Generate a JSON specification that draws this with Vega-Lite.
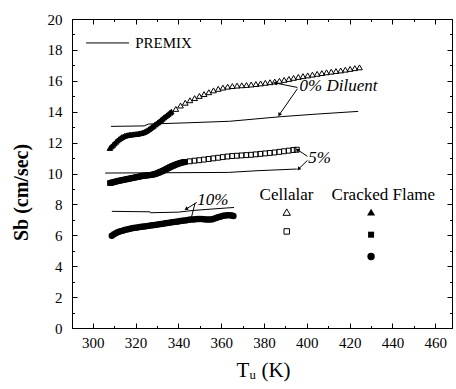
{
  "$schema": "https://vega.github.io/schema/vega-lite/v6.json",
  "width": 380,
  "height": 309,
  "autosize": "none",
  "padding": {"left": 72, "top": 19, "right": 4, "bottom": 61},
  "background": "white",
  "config": {
    "view": {"stroke": "black", "strokeWidth": 1},
    "font": "Times New Roman, Liberation Serif, serif",
    "text": {"font": "Times New Roman, Liberation Serif, serif", "color": "black"}
  },
  "datasets": {
    "curve0dense": [
      {"T": 308.0, "S": 11.65}, {"T": 308.7, "S": 11.75}, {"T": 309.4, "S": 11.85}, {"T": 310.1, "S": 11.95},
      {"T": 310.8, "S": 12.05}, {"T": 311.5, "S": 12.14}, {"T": 312.2, "S": 12.22}, {"T": 312.9, "S": 12.29},
      {"T": 313.6, "S": 12.35}, {"T": 314.3, "S": 12.40}, {"T": 315.0, "S": 12.44}, {"T": 315.7, "S": 12.47},
      {"T": 316.4, "S": 12.49}, {"T": 317.1, "S": 12.51}, {"T": 317.8, "S": 12.52}, {"T": 318.5, "S": 12.53},
      {"T": 319.2, "S": 12.54}, {"T": 319.9, "S": 12.55}, {"T": 320.6, "S": 12.56}, {"T": 321.3, "S": 12.58},
      {"T": 322.0, "S": 12.60}, {"T": 322.7, "S": 12.62}, {"T": 323.4, "S": 12.65}, {"T": 324.1, "S": 12.69},
      {"T": 324.8, "S": 12.74}, {"T": 325.5, "S": 12.80}, {"T": 326.2, "S": 12.87}, {"T": 326.9, "S": 12.94},
      {"T": 327.6, "S": 13.01}, {"T": 328.3, "S": 13.08}, {"T": 329.0, "S": 13.16}, {"T": 329.7, "S": 13.23},
      {"T": 330.4, "S": 13.30}, {"T": 331.1, "S": 13.38}, {"T": 331.8, "S": 13.46}, {"T": 332.5, "S": 13.54},
      {"T": 333.2, "S": 13.62}, {"T": 333.9, "S": 13.70}, {"T": 334.6, "S": 13.77}, {"T": 335.3, "S": 13.85},
      {"T": 336.0, "S": 13.93}, {"T": 336.7, "S": 14.00}
    ],
    "curve0": [
      {"T": 338.8, "S": 14.18}, {"T": 341.0, "S": 14.40}, {"T": 343.2, "S": 14.58}, {"T": 345.4, "S": 14.74},
      {"T": 347.6, "S": 14.88}, {"T": 349.8, "S": 15.02}, {"T": 352.0, "S": 15.14}, {"T": 354.2, "S": 15.26},
      {"T": 356.4, "S": 15.38}, {"T": 358.6, "S": 15.48}, {"T": 360.8, "S": 15.56}, {"T": 363.0, "S": 15.62},
      {"T": 365.2, "S": 15.66}, {"T": 367.4, "S": 15.69}, {"T": 369.6, "S": 15.71}, {"T": 371.8, "S": 15.73},
      {"T": 374.0, "S": 15.76}, {"T": 376.2, "S": 15.79}, {"T": 378.4, "S": 15.83}, {"T": 380.6, "S": 15.87},
      {"T": 382.8, "S": 15.91}, {"T": 385.0, "S": 15.95}, {"T": 387.2, "S": 16.00}, {"T": 389.4, "S": 16.06},
      {"T": 391.6, "S": 16.12}, {"T": 393.8, "S": 16.19}, {"T": 396.0, "S": 16.25}, {"T": 398.2, "S": 16.30},
      {"T": 400.4, "S": 16.35}, {"T": 402.6, "S": 16.40}, {"T": 404.8, "S": 16.45}, {"T": 407.0, "S": 16.50},
      {"T": 409.2, "S": 16.55}, {"T": 411.4, "S": 16.59}, {"T": 413.6, "S": 16.63}, {"T": 415.8, "S": 16.67},
      {"T": 418.0, "S": 16.72}, {"T": 420.2, "S": 16.77}, {"T": 422.4, "S": 16.82}, {"T": 424.6, "S": 16.87}
    ],
    "curve5dense": [
      {"T": 308.1, "S": 9.38}, {"T": 308.8, "S": 9.41}, {"T": 309.5, "S": 9.43}, {"T": 310.2, "S": 9.46},
      {"T": 310.9, "S": 9.48}, {"T": 311.6, "S": 9.51}, {"T": 312.3, "S": 9.53}, {"T": 313.0, "S": 9.55},
      {"T": 313.7, "S": 9.57}, {"T": 314.4, "S": 9.59}, {"T": 315.1, "S": 9.61}, {"T": 315.8, "S": 9.63},
      {"T": 316.5, "S": 9.65}, {"T": 317.2, "S": 9.67}, {"T": 317.9, "S": 9.69}, {"T": 318.6, "S": 9.71},
      {"T": 319.3, "S": 9.73}, {"T": 320.0, "S": 9.75}, {"T": 320.7, "S": 9.77}, {"T": 321.4, "S": 9.79},
      {"T": 322.1, "S": 9.81}, {"T": 322.8, "S": 9.83}, {"T": 323.5, "S": 9.85}, {"T": 324.2, "S": 9.86},
      {"T": 324.9, "S": 9.87}, {"T": 325.6, "S": 9.88}, {"T": 326.3, "S": 9.89}, {"T": 327.0, "S": 9.90},
      {"T": 327.7, "S": 9.92}, {"T": 328.4, "S": 9.94}, {"T": 329.1, "S": 9.97}, {"T": 329.8, "S": 10.00},
      {"T": 330.5, "S": 10.04}, {"T": 331.2, "S": 10.08}, {"T": 331.9, "S": 10.12}, {"T": 332.6, "S": 10.16},
      {"T": 333.3, "S": 10.21}, {"T": 334.0, "S": 10.26}, {"T": 334.7, "S": 10.31}, {"T": 335.4, "S": 10.36},
      {"T": 336.1, "S": 10.41}, {"T": 336.8, "S": 10.46}, {"T": 337.5, "S": 10.50}, {"T": 338.2, "S": 10.54},
      {"T": 338.9, "S": 10.58}, {"T": 339.6, "S": 10.62}, {"T": 340.3, "S": 10.65}, {"T": 341.0, "S": 10.68},
      {"T": 341.7, "S": 10.71}, {"T": 342.4, "S": 10.73}, {"T": 343.1, "S": 10.75}
    ],
    "curve5": [
      {"T": 345.3, "S": 10.79}, {"T": 347.5, "S": 10.83}, {"T": 349.7, "S": 10.86}, {"T": 351.9, "S": 10.90},
      {"T": 354.1, "S": 10.94}, {"T": 356.3, "S": 10.98}, {"T": 358.5, "S": 11.02}, {"T": 360.7, "S": 11.06},
      {"T": 362.9, "S": 11.10}, {"T": 365.1, "S": 11.13}, {"T": 367.3, "S": 11.15}, {"T": 369.5, "S": 11.17},
      {"T": 371.7, "S": 11.19}, {"T": 373.9, "S": 11.21}, {"T": 376.1, "S": 11.24}, {"T": 378.3, "S": 11.27},
      {"T": 380.5, "S": 11.30}, {"T": 382.7, "S": 11.33}, {"T": 384.9, "S": 11.36}, {"T": 387.1, "S": 11.40},
      {"T": 389.3, "S": 11.44}, {"T": 391.5, "S": 11.48}, {"T": 393.7, "S": 11.52}, {"T": 395.3, "S": 11.54}
    ],
    "curve10": [
      {"T": 308.9, "S": 5.97}, {"T": 309.9, "S": 6.07}, {"T": 310.9, "S": 6.15}, {"T": 311.9, "S": 6.21},
      {"T": 312.9, "S": 6.26}, {"T": 313.9, "S": 6.30}, {"T": 314.9, "S": 6.34}, {"T": 315.9, "S": 6.38},
      {"T": 316.9, "S": 6.41}, {"T": 317.9, "S": 6.44}, {"T": 318.9, "S": 6.47}, {"T": 319.9, "S": 6.49},
      {"T": 320.9, "S": 6.51}, {"T": 321.9, "S": 6.53}, {"T": 322.9, "S": 6.55}, {"T": 323.9, "S": 6.57},
      {"T": 324.9, "S": 6.59}, {"T": 325.9, "S": 6.61}, {"T": 326.9, "S": 6.63}, {"T": 327.9, "S": 6.65},
      {"T": 328.9, "S": 6.67}, {"T": 329.9, "S": 6.69}, {"T": 330.9, "S": 6.71}, {"T": 331.9, "S": 6.73},
      {"T": 332.9, "S": 6.75}, {"T": 333.9, "S": 6.78}, {"T": 334.9, "S": 6.80}, {"T": 335.9, "S": 6.82},
      {"T": 336.9, "S": 6.84}, {"T": 337.9, "S": 6.86}, {"T": 338.9, "S": 6.88}, {"T": 339.9, "S": 6.90},
      {"T": 340.9, "S": 6.92}, {"T": 341.9, "S": 6.94}, {"T": 342.9, "S": 6.96}, {"T": 343.9, "S": 6.98},
      {"T": 344.9, "S": 7.00}, {"T": 345.9, "S": 7.02}, {"T": 346.9, "S": 7.03}, {"T": 347.9, "S": 7.04},
      {"T": 348.9, "S": 7.05}, {"T": 349.9, "S": 7.05}, {"T": 350.9, "S": 7.05}, {"T": 351.9, "S": 7.04},
      {"T": 352.9, "S": 7.03}, {"T": 353.9, "S": 7.02}, {"T": 354.9, "S": 7.02}, {"T": 355.9, "S": 7.04},
      {"T": 356.9, "S": 7.08}, {"T": 357.9, "S": 7.13}, {"T": 358.9, "S": 7.18}, {"T": 359.9, "S": 7.22},
      {"T": 360.9, "S": 7.26}, {"T": 361.9, "S": 7.28}, {"T": 362.9, "S": 7.30}, {"T": 363.9, "S": 7.30},
      {"T": 364.9, "S": 7.28}, {"T": 365.7, "S": 7.25}
    ],
    "premix": [
      {"series": "0%", "T": 308.5, "S": 13.05}, {"series": "0%", "T": 324.0, "S": 13.08},
      {"series": "0%", "T": 326.0, "S": 13.20}, {"series": "0%", "T": 344.0, "S": 13.28},
      {"series": "0%", "T": 364.0, "S": 13.38}, {"series": "0%", "T": 388.0, "S": 13.68},
      {"series": "0%", "T": 405.0, "S": 13.85}, {"series": "0%", "T": 424.0, "S": 14.02},
      {"series": "5%", "T": 305.8, "S": 10.03}, {"series": "5%", "T": 363.4, "S": 10.07},
      {"series": "5%", "T": 376.7, "S": 10.18}, {"series": "5%", "T": 395.3, "S": 10.29},
      {"series": "10%", "T": 308.9, "S": 7.55}, {"series": "10%", "T": 326.8, "S": 7.52},
      {"series": "10%", "T": 327.0, "S": 7.46}, {"series": "10%", "T": 340.0, "S": 7.50},
      {"series": "10%", "T": 347.0, "S": 7.61}, {"series": "10%", "T": 362.6, "S": 7.77},
      {"series": "10%", "T": 366.0, "S": 7.80}
    ],
    "premixKey": [
      {"T": 296.9, "S": 18.45, "T2": 316.9, "S2": 18.45}
    ],
    "arrows": [
      {"id": "a1", "T": 385.2, "S": 15.86, "T2": 395.6, "S2": 15.57},
      {"id": "a2", "T": 387.1, "S": 13.80, "T2": 395.6, "S2": 15.49},
      {"id": "a3", "T": 395.6, "S": 11.54, "T2": 400.3, "S2": 11.11},
      {"id": "a4", "T": 396.1, "S": 10.29, "T2": 400.3, "S2": 10.85},
      {"id": "a5", "T": 343.6, "S": 7.70, "T2": 348.6, "S2": 8.13},
      {"id": "a6", "T": 345.8, "S": 7.01, "T2": 347.8, "S2": 8.09}
    ],
    "notes": [
      {"T": 396.6, "S": 15.68, "label": "0% Diluent"},
      {"T": 400.6, "S": 11.0, "label": "5%"},
      {"T": 348.8, "S": 8.3, "label": "10%"}
    ],
    "names": [
      {"T": 319.8, "S": 18.45, "label": "PREMIX", "align": "left"},
      {"T": 390.5, "S": 8.62, "label": "Cellalar", "align": "center"},
      {"T": 435.7, "S": 8.62, "label": "Cracked Flame", "align": "center"}
    ],
    "keys": [
      {"key": "cellTri", "T": 390.6, "S": 7.5},
      {"key": "cellSq", "T": 390.6, "S": 6.25},
      {"key": "crTri", "T": 430.0, "S": 7.5},
      {"key": "crSq", "T": 430.0, "S": 6.04},
      {"key": "crCirc", "T": 430.0, "S": 4.63}
    ]
  },
  "layer": [
    {
      "encoding": {
        "x": {
          "field": "T", "type": "quantitative",
          "scale": {"domain": [290.3, 467.8], "nice": false, "zero": false},
          "axis": {
            "values": [300, 310, 320, 330, 340, 350, 360, 370, 380, 390, 400, 410, 420, 430, 440, 450, 460],
            "labelExpr": "datum.value % 20 === 0 ? datum.label : ''",
            "tickSize": {"condition": {"test": "datum.value % 20 === 0", "value": -5}, "value": -2.5},
            "labelPadding": 12,
            "labelFont": "Times New Roman, Liberation Serif, serif", "labelFontSize": 15, "labelColor": "black",
            "labelOverlap": false, "labelFlush": false,
            "domainColor": "black", "tickColor": "black", "grid": false,
            "title": "Tᵤ (K)", "titleFont": "Times New Roman, Liberation Serif, serif", "titleFontSize": 21,
            "titleFontWeight": "normal", "titleColor": "black",
            "titleX": 191, "titleY": 42, "titleBaseline": "middle"
          }
        },
        "y": {
          "field": "S", "type": "quantitative",
          "scale": {"domain": [0, 20], "nice": false, "zero": false},
          "axis": {
            "values": [0, 1, 2, 3, 4, 5, 6, 7, 8, 9, 10, 11, 12, 13, 14, 15, 16, 17, 18, 19, 20],
            "labelExpr": "datum.value % 2 === 0 ? datum.label : ''",
            "tickSize": {"condition": {"test": "datum.value % 2 === 0", "value": -5}, "value": -2.5},
            "labelPadding": 15,
            "labelFont": "Times New Roman, Liberation Serif, serif", "labelFontSize": 15, "labelColor": "black",
            "labelOverlap": false, "labelFlush": false,
            "domainColor": "black", "tickColor": "black", "grid": false,
            "title": "Sb (cm/sec)", "titleFont": "Times New Roman, Liberation Serif, serif", "titleFontSize": 20,
            "titleFontWeight": "bold", "titleColor": "black",
            "titleX": -51, "titleY": 173, "titleBaseline": "middle"
          }
        }
      },
      "layer": [
        {
          "data": {"name": "premix"},
          "mark": {"type": "line", "color": "black", "strokeWidth": 1},
          "encoding": {"detail": {"field": "series"}}
        },
        {
          "data": {"name": "premixKey"},
          "mark": {"type": "rule", "color": "black", "strokeWidth": 1},
          "encoding": {"x2": {"field": "T2"}, "y2": {"field": "S2"}}
        },
        {
          "data": {"name": "curve0dense"},
          "mark": {"type": "point", "shape": "triangle-up", "filled": true, "fill": "black", "stroke": "black", "strokeWidth": 1, "size": 30, "opacity": 1},
          "encoding": {}
        },
        {
          "data": {"name": "curve0"},
          "mark": {"type": "point", "shape": "triangle-up", "filled": false, "stroke": "black", "strokeWidth": 1, "size": 32, "opacity": 1},
          "encoding": {}
        },
        {
          "data": {"name": "curve5dense"},
          "mark": {"type": "point", "shape": "square", "filled": true, "fill": "black", "stroke": "black", "strokeWidth": 1, "size": 24, "opacity": 1},
          "encoding": {}
        },
        {
          "data": {"name": "curve5"},
          "mark": {"type": "point", "shape": "square", "filled": false, "stroke": "black", "strokeWidth": 1, "size": 24, "opacity": 1},
          "encoding": {}
        },
        {
          "data": {"name": "curve10"},
          "mark": {"type": "point", "shape": "circle", "filled": true, "fill": "black", "size": 42, "opacity": 1},
          "encoding": {}
        },
        {
          "data": {"name": "arrows"},
          "mark": {"type": "rule", "color": "black", "strokeWidth": 1},
          "encoding": {"x2": {"field": "T2"}, "y2": {"field": "S2"}}
        },
        {
          "data": {"name": "arrows"},
          "transform": [{"filter": "datum.id === 'a1'"}],
          "mark": {"type": "point", "shape": "triangle-up", "filled": true, "fill": "black", "size": 18, "angle": 281, "opacity": 1},
          "encoding": {}
        },
        {
          "data": {"name": "arrows"},
          "transform": [{"filter": "datum.id === 'a2'"}],
          "mark": {"type": "point", "shape": "triangle-up", "filled": true, "fill": "black", "size": 18, "angle": 214, "opacity": 1},
          "encoding": {}
        },
        {
          "data": {"name": "arrows"},
          "transform": [{"filter": "datum.id === 'a3'"}],
          "mark": {"type": "point", "shape": "triangle-up", "filled": true, "fill": "black", "size": 18, "angle": 304, "opacity": 1},
          "encoding": {}
        },
        {
          "data": {"name": "arrows"},
          "transform": [{"filter": "datum.id === 'a4'"}],
          "mark": {"type": "point", "shape": "triangle-up", "filled": true, "fill": "black", "size": 18, "angle": 226, "opacity": 1},
          "encoding": {}
        },
        {
          "data": {"name": "arrows"},
          "transform": [{"filter": "datum.id === 'a5'"}],
          "mark": {"type": "point", "shape": "triangle-up", "filled": true, "fill": "black", "size": 18, "angle": 238, "opacity": 1},
          "encoding": {}
        },
        {
          "data": {"name": "notes"},
          "mark": {"type": "text", "align": "left", "baseline": "middle", "fontSize": 17, "fontStyle": "italic", "font": "Times New Roman, Liberation Serif, serif", "color": "black"},
          "encoding": {"text": {"field": "label"}}
        },
        {
          "data": {"name": "names"},
          "transform": [{"filter": "datum.align === 'left'"}],
          "mark": {"type": "text", "align": "left", "baseline": "middle", "fontSize": 15, "font": "Times New Roman, Liberation Serif, serif", "color": "black"},
          "encoding": {"text": {"field": "label"}}
        },
        {
          "data": {"name": "names"},
          "transform": [{"filter": "datum.align === 'center'"}],
          "mark": {"type": "text", "align": "center", "baseline": "middle", "fontSize": 17, "font": "Times New Roman, Liberation Serif, serif", "color": "black"},
          "encoding": {"text": {"field": "label"}}
        },
        {
          "data": {"name": "keys"},
          "transform": [{"filter": "datum.key === 'cellTri'"}],
          "mark": {"type": "point", "shape": "triangle-up", "filled": false, "stroke": "black", "strokeWidth": 1, "size": 55, "opacity": 1},
          "encoding": {}
        },
        {
          "data": {"name": "keys"},
          "transform": [{"filter": "datum.key === 'cellSq'"}],
          "mark": {"type": "point", "shape": "square", "filled": false, "stroke": "black", "strokeWidth": 1, "size": 30, "opacity": 1},
          "encoding": {}
        },
        {
          "data": {"name": "keys"},
          "transform": [{"filter": "datum.key === 'crTri'"}],
          "mark": {"type": "point", "shape": "triangle-up", "filled": true, "fill": "black", "size": 65, "opacity": 1},
          "encoding": {}
        },
        {
          "data": {"name": "keys"},
          "transform": [{"filter": "datum.key === 'crSq'"}],
          "mark": {"type": "point", "shape": "square", "filled": true, "fill": "black", "size": 36, "opacity": 1},
          "encoding": {}
        },
        {
          "data": {"name": "keys"},
          "transform": [{"filter": "datum.key === 'crCirc'"}],
          "mark": {"type": "point", "shape": "circle", "filled": true, "fill": "black", "size": 55, "opacity": 1},
          "encoding": {}
        }
      ]
    },
    {
      "data": {"name": "keys"},
      "mark": {"type": "point", "opacity": 0},
      "encoding": {
        "x": {
          "field": "T", "type": "quantitative",
          "scale": {"domain": [290.3, 467.8], "nice": false, "zero": false},
          "axis": {
            "orient": "top",
            "values": [300, 310, 320, 330, 340, 350, 360, 370, 380, 390, 400, 410, 420, 430, 440, 450, 460],
            "labels": false,
            "tickSize": {"condition": {"test": "datum.value % 20 === 0", "value": -5}, "value": -2.5},
            "domainColor": "black", "tickColor": "black", "grid": false, "title": null
          }
        },
        "y": {
          "field": "S", "type": "quantitative",
          "scale": {"domain": [0, 20], "nice": false, "zero": false},
          "axis": {
            "orient": "right",
            "values": [0, 1, 2, 3, 4, 5, 6, 7, 8, 9, 10, 11, 12, 13, 14, 15, 16, 17, 18, 19, 20],
            "labels": false,
            "tickSize": {"condition": {"test": "datum.value % 2 === 0", "value": -5}, "value": -2.5},
            "domainColor": "black", "tickColor": "black", "grid": false, "title": null
          }
        }
      }
    }
  ],
  "resolve": {"axis": {"x": "independent", "y": "independent"}}
}
